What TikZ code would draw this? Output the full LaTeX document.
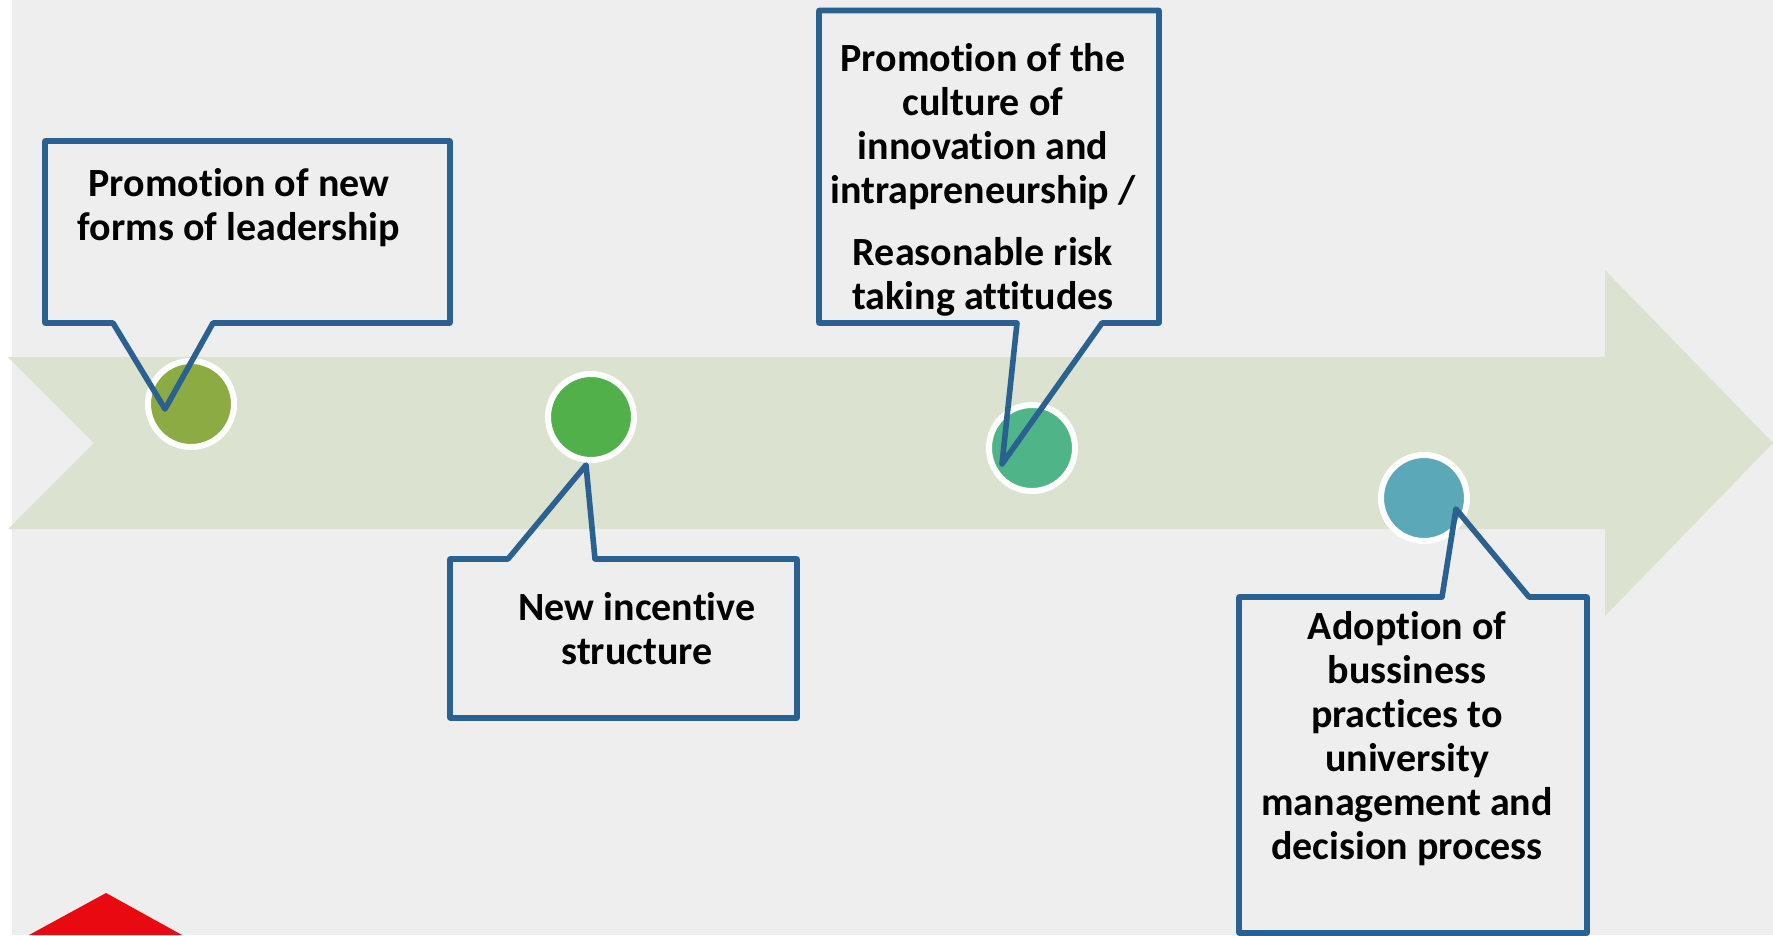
\documentclass[tikz,border=0pt]{standalone}
\usepackage{fontspec}
\setmainfont[Ligatures=NoCommon]{Carlito}
\definecolor{calloutblue}{HTML}{2A6190}
\definecolor{bg}{HTML}{EEEEEE}
\definecolor{band}{HTML}{DBE2CF}
\definecolor{dotA}{HTML}{8CAB42}
\definecolor{dotB}{HTML}{52B04A}
\definecolor{dotC}{HTML}{4FB588}
\definecolor{dotD}{HTML}{5AA8B8}
\definecolor{roofred}{HTML}{E80A10}
\tikzset{
  callout/.style={draw=calloutblue,line width=5.6pt,line join=round,fill=none},
  dot/.style={circle,fill=#1,draw=white,line width=6pt,minimum size=86pt,inner sep=0pt},
  lbl/.style={align=center,font=\fontsize{40}{44}\selectfont\bfseries,text=black,inner sep=0pt}
}
\begin{document}
\begin{tikzpicture}[x=1pt,y=-1pt]
\useasboundingbox (0,0) rectangle (1773,935);
\fill[white] (0,0) rectangle (1773,935);
\fill[bg] (12,0) rectangle (1773,935);
\fill[roofred] (106,893) -- (182,935) -- (29,935) -- cycle;
\fill[band] (8,357) -- (1605,357) -- (1605,270) -- (1773,443) -- (1605,616) -- (1605,529) -- (8,529) -- (94,443) -- cycle;
\node[dot=dotA] (c1) at (191,404) {};
\node[dot=dotB] (c2) at (591,417) {};
\node[dot=dotC] (c3) at (1032,448) {};
\node[dot=dotD] (c4) at (1424,498) {};
\coordinate (t1) at (165,409);
\coordinate (t2) at (586,465);
\coordinate (t3) at (1002,464);
\coordinate (t4) at (1456,509);
\draw[callout] (45,141) -- (450,141) -- (450,323) -- (213,323) -- (t1) -- (113,323) -- (45,323) -- cycle;
\draw[callout] (450,559) -- (508,559) -- (t2) -- (595,559) -- (797,559) -- (797,718) -- (450,718) -- cycle;
\draw[callout] (819,10.5) -- (1159,10.5) -- (1159,323) -- (1102,323) -- (t3) -- (1017,323) -- (819,323) -- cycle;
\draw[callout] (1239,597) -- (1442,597) -- (t4) -- (1529,597) -- (1587,597) -- (1587,933) -- (1239,933) -- cycle;
\node[lbl] (l1) at (239,208) {Promotion of new\\forms of leadership};
\node[lbl] (l2) at (637,629) {New incentive\\structure};
\node[lbl] (l3a) at (983,127) {Promotion of the\\culture of\\innovation and\\intrapreneurship /};
\node[lbl] (l3b) at (983,277) {Reasonable risk\\taking attitudes};
\node[lbl] (l4) at (1407,739) {Adoption of\\bussiness\\practices to\\university\\management and\\decision process};
\end{tikzpicture}
\end{document}
